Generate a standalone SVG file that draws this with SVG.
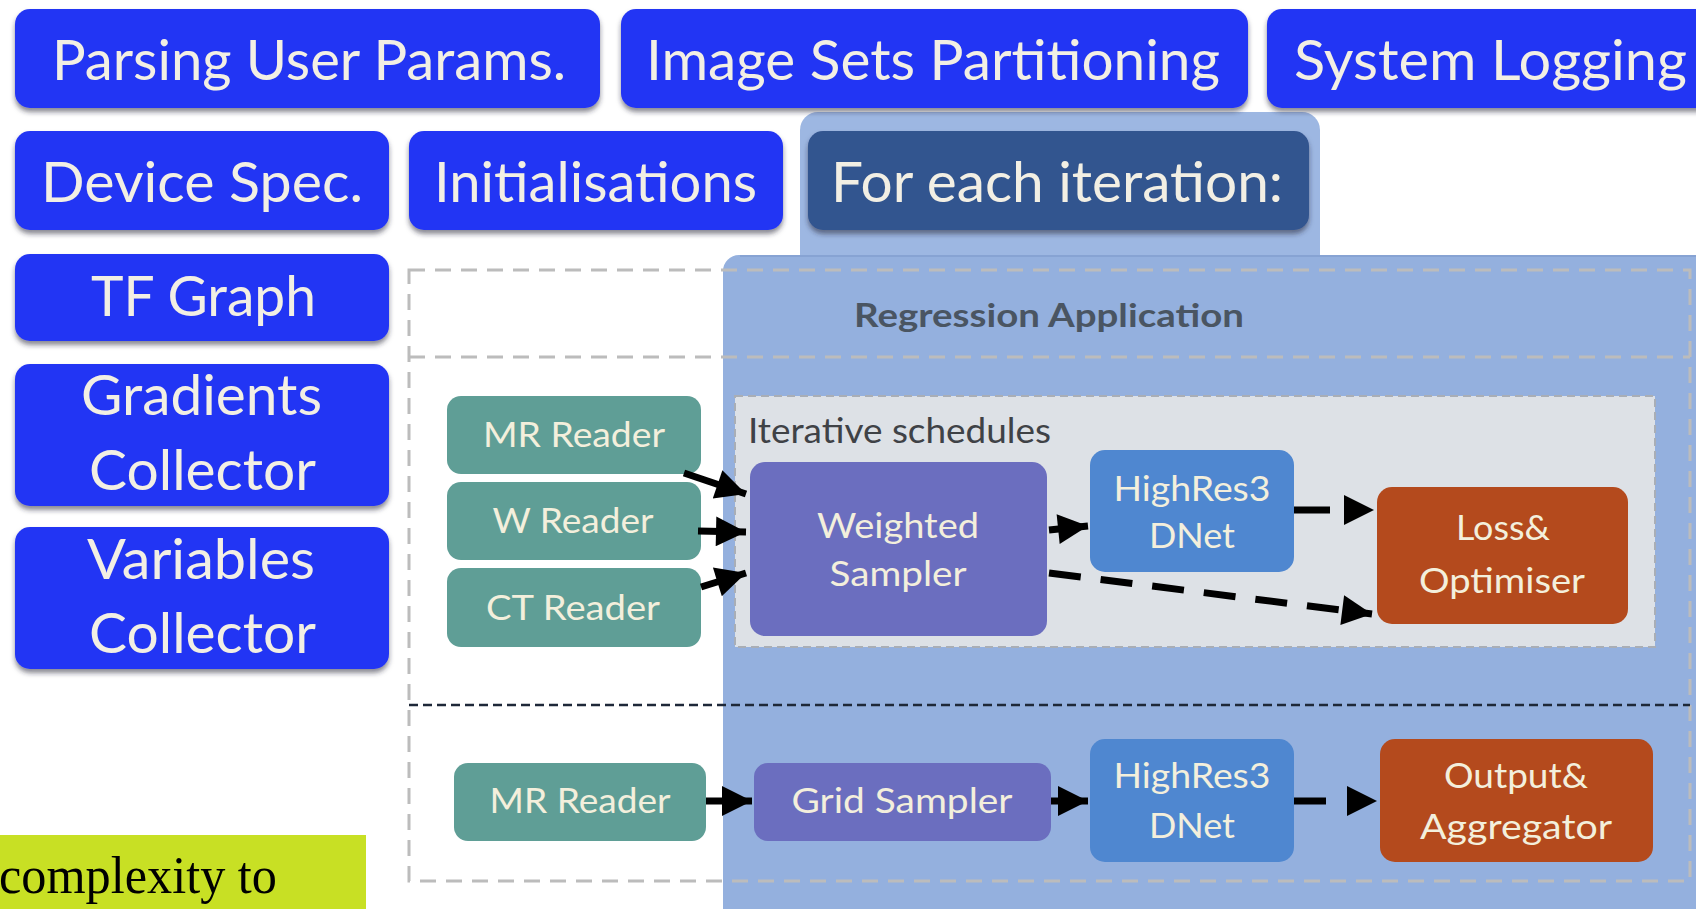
<svg xmlns="http://www.w3.org/2000/svg" width="1696" height="909" viewBox="0 0 1696 909">
  <defs>
    <filter id="shadow" x="-10%" y="-10%" width="120%" height="130%">
      <feDropShadow dx="0" dy="4" stdDeviation="2.5" flood-color="#2a2a3a" flood-opacity="0.55"/>
    </filter>
    <marker id="head" viewBox="0 0 30 30" refX="30" refY="15" markerWidth="32" markerHeight="30" markerUnits="userSpaceOnUse" orient="auto">
      <path d="M0,0 L30,15 L0,30 Z" fill="#000"/>
    </marker>
    <style>
      .step { fill: #2436f4; filter: url(#shadow); }
      .steptxt { font-family: Lato, "Open Sans", sans-serif; font-size: 56px; fill: #f2efe4; }
      .node { font-family: Lato, "Open Sans", sans-serif; font-size: 34px; fill: #f3efdc; text-anchor: middle; }
      .teal { fill: #5f9e96; }
      .purple { fill: #6b6ebf; }
      .hr { fill: #4f87d0; }
      .orange { fill: #b44a1d; }
      .conn { stroke: #000; stroke-width: 7; fill: none; marker-end: url(#head); }
      .grid { stroke: #bcbcbc; stroke-width: 3; fill: none; stroke-dasharray: 16 10; }
    </style>
  </defs>

  <rect width="1696" height="909" fill="#ffffff"/>

  <!-- application region with the iteration tab -->
  <g id="app-region">
    <rect x="800" y="112" width="520" height="160" rx="18" fill="#9db7e2"/>
    <rect x="723" y="255" width="990" height="680" rx="16" fill="#94b0de"/>
    <line x1="740" y1="256" x2="1696" y2="256" stroke="#7f9ccc" stroke-width="2" opacity="0.6"/>
  </g>

  <!-- dashed frames -->
  <g id="frames">
    <rect x="409" y="270" width="1281" height="611" class="grid"/>
    <line x1="409" y1="357" x2="1690" y2="357" class="grid"/>
    <line x1="409" y1="705" x2="1690" y2="705" stroke="#1e2838" stroke-width="2.5" stroke-dasharray="9 5"/>
    <text x="1049" y="327" font-family="Lato, 'Open Sans', sans-serif" font-weight="bold" font-size="33" fill="#4a5562" text-anchor="middle" textLength="390" lengthAdjust="spacingAndGlyphs">Regression Application</text>
  </g>

  <g id="iterative-schedules">
    <rect x="735" y="396" width="920" height="251" fill="#dde1e6" stroke="#a9aeb6" stroke-width="2" stroke-dasharray="8 5"/>
    <text x="748" y="443" font-family="Lato, 'Open Sans', sans-serif" font-size="34" fill="#3f4246" textLength="303" lengthAdjust="spacingAndGlyphs">Iterative schedules</text>
  </g>

  <!-- pipeline steps -->
  <g id="parsing-user-params">
    <rect x="15" y="9" width="585" height="99" rx="15" class="step"/>
    <text x="52" y="80" class="steptxt" textLength="514" lengthAdjust="spacingAndGlyphs">Parsing User Params.</text>
  </g>
  <g id="image-sets-partitioning">
    <rect x="621" y="9" width="627" height="99" rx="15" class="step"/>
    <text x="646" y="80" class="steptxt" textLength="574" lengthAdjust="spacingAndGlyphs">Image Sets Partitioning</text>
  </g>
  <g id="system-logging">
    <rect x="1267" y="9" width="460" height="99" rx="15" class="step"/>
    <text x="1294" y="80" class="steptxt" textLength="393" lengthAdjust="spacingAndGlyphs">System Logging</text>
  </g>
  <g id="device-spec">
    <rect x="15" y="131" width="374" height="99" rx="15" class="step"/>
    <text x="41" y="202" class="steptxt" textLength="322" lengthAdjust="spacingAndGlyphs">Device Spec.</text>
  </g>
  <g id="initialisations">
    <rect x="409" y="131" width="374" height="99" rx="15" class="step"/>
    <text x="434" y="202" class="steptxt" textLength="323" lengthAdjust="spacingAndGlyphs">Initialisations</text>
  </g>
  <g id="for-each-iteration">
    <rect x="808" y="131" width="501" height="99" rx="15" fill="#32548f" filter="url(#shadow)"/>
    <text x="831" y="202" class="steptxt" textLength="452" lengthAdjust="spacingAndGlyphs">For each iteration:</text>
  </g>
  <g id="tf-graph">
    <rect x="15" y="254" width="374" height="87" rx="15" class="step"/>
    <text x="91" y="316" class="steptxt" textLength="225" lengthAdjust="spacingAndGlyphs">TF Graph</text>
  </g>
  <g id="gradients-collector">
    <rect x="15" y="364" width="374" height="142" rx="15" class="step"/>
    <text x="81" y="415" class="steptxt" textLength="241" lengthAdjust="spacingAndGlyphs">Gradients</text>
    <text x="89" y="490" class="steptxt" textLength="227" lengthAdjust="spacingAndGlyphs">Collector</text>
  </g>
  <g id="variables-collector">
    <rect x="15" y="527" width="374" height="142" rx="15" class="step"/>
    <text x="87" y="579" class="steptxt" textLength="228" lengthAdjust="spacingAndGlyphs">Variables</text>
    <text x="89" y="653" class="steptxt" textLength="227" lengthAdjust="spacingAndGlyphs">Collector</text>
  </g>

  <!-- training branch -->
  <g id="mr-reader">
    <rect x="447" y="396" width="254" height="78" rx="14" class="teal"/>
    <text x="574" y="447" class="node" textLength="182" lengthAdjust="spacingAndGlyphs">MR Reader</text>
  </g>
  <g id="w-reader">
    <rect x="447" y="482" width="254" height="78" rx="14" class="teal"/>
    <text x="573" y="533" class="node" textLength="161" lengthAdjust="spacingAndGlyphs">W Reader</text>
  </g>
  <g id="ct-reader">
    <rect x="447" y="568" width="254" height="79" rx="14" class="teal"/>
    <text x="573" y="620" class="node" textLength="174" lengthAdjust="spacingAndGlyphs">CT Reader</text>
  </g>
  <g id="weighted-sampler">
    <rect x="750" y="462" width="297" height="174" rx="15" class="purple"/>
    <text x="898" y="538" class="node" textLength="162" lengthAdjust="spacingAndGlyphs">Weighted</text>
    <text x="898" y="586" class="node" textLength="137" lengthAdjust="spacingAndGlyphs">Sampler</text>
  </g>
  <g id="highres3dnet-train">
    <rect x="1090" y="450" width="204" height="122" rx="15" class="hr"/>
    <text x="1192" y="501" class="node" textLength="157" lengthAdjust="spacingAndGlyphs">HighRes3</text>
    <text x="1192" y="548" class="node" textLength="86" lengthAdjust="spacingAndGlyphs">DNet</text>
  </g>
  <g id="loss-optimiser">
    <rect x="1377" y="487" width="251" height="137" rx="15" class="orange"/>
    <text x="1503" y="540" class="node" textLength="94" lengthAdjust="spacingAndGlyphs">Loss&amp;</text>
    <text x="1502" y="593" class="node" textLength="166" lengthAdjust="spacingAndGlyphs">Optimiser</text>
  </g>

  <!-- inference branch -->
  <g id="mr-reader-infer">
    <rect x="454" y="763" width="252" height="78" rx="14" class="teal"/>
    <text x="580" y="813" class="node" textLength="181" lengthAdjust="spacingAndGlyphs">MR Reader</text>
  </g>
  <g id="grid-sampler">
    <rect x="754" y="763" width="297" height="78" rx="14" class="purple"/>
    <text x="902" y="813" class="node" textLength="221" lengthAdjust="spacingAndGlyphs">Grid Sampler</text>
  </g>
  <g id="highres3dnet-infer">
    <rect x="1090" y="739" width="204" height="123" rx="15" class="hr"/>
    <text x="1192" y="788" class="node" textLength="157" lengthAdjust="spacingAndGlyphs">HighRes3</text>
    <text x="1192" y="838" class="node" textLength="86" lengthAdjust="spacingAndGlyphs">DNet</text>
  </g>
  <g id="output-aggregator">
    <rect x="1380" y="739" width="273" height="123" rx="15" class="orange"/>
    <text x="1516" y="788" class="node" textLength="144" lengthAdjust="spacingAndGlyphs">Output&amp;</text>
    <text x="1516" y="839" class="node" textLength="192" lengthAdjust="spacingAndGlyphs">Aggregator</text>
  </g>

  <!-- connectors -->
  <g id="connectors">
    <line x1="684" y1="473" x2="746" y2="494" class="conn"/>
    <line x1="698" y1="531" x2="746" y2="532" class="conn"/>
    <line x1="701" y1="587" x2="746" y2="573" class="conn"/>
    <line x1="1049" y1="530" x2="1088" y2="526" class="conn"/>
    <line x1="1294" y1="510" x2="1374" y2="510" class="conn" stroke-dasharray="36 60"/>
    <line x1="1049" y1="573" x2="1372" y2="614" class="conn" stroke-dasharray="32 20"/>
    <line x1="706" y1="801" x2="752" y2="801" class="conn"/>
    <line x1="1051" y1="801" x2="1088" y2="801" class="conn"/>
    <line x1="1294" y1="801" x2="1377" y2="801" class="conn" stroke-dasharray="32 60"/>
  </g>

  <!-- caption fragment -->
  <g id="caption">
    <rect x="0" y="835" width="366" height="74" fill="#c8e024"/>
    <text x="-1" y="893" font-family="'Liberation Serif', serif" font-size="52" fill="#000" textLength="278" lengthAdjust="spacingAndGlyphs">complexity to</text>
  </g>
</svg>
